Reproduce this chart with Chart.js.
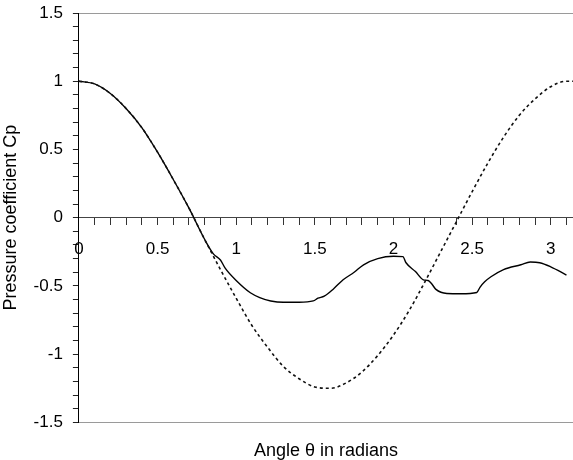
<!DOCTYPE html>
<html>
<head>
<meta charset="utf-8">
<title>Pressure coefficient</title>
<script src="https://cdn.jsdelivr.net/npm/chart.js@4"></script>
<style>
  html, body { margin: 0; padding: 0; background: #fff; }
  #wrap { width: 573px; height: 460px; }
</style>
</head>
<body>
<div id="wrap"><canvas id="cpChart" width="573" height="460"></canvas></div>
<script>
// measured Cp around the body (solid)
const thetaMeasured = [0, 0.1, 0.2, 0.3, 0.4, 0.5, 0.6, 0.7, 0.8, 0.855, 0.9, 0.93, 1.0, 1.09, 1.15, 1.22,
    1.3, 1.4, 1.49, 1.52, 1.56, 1.62, 1.68, 1.75, 1.81, 1.9, 2.0, 2.06, 2.08, 2.14, 2.19, 2.22, 2.24,
    2.27, 2.34, 2.43, 2.53, 2.55, 2.58, 2.62, 2.7, 2.81, 2.87, 2.93, 3.0, 3.1];
const cpMeasured = [1.0, 0.98, 0.91, 0.80, 0.66, 0.48, 0.28, 0.07, -0.16, -0.265, -0.31, -0.37, -0.46, -0.55, -0.585, -0.61,
    -0.62, -0.62, -0.61, -0.59, -0.575, -0.52, -0.455, -0.40, -0.345, -0.30, -0.283, -0.285, -0.33, -0.395, -0.455, -0.46, -0.48,
    -0.525, -0.555, -0.557, -0.548, -0.51, -0.47, -0.433, -0.38, -0.345, -0.325, -0.33, -0.36, -0.42];

// inviscid (potential flow) Cp (dotted)
const thetaIdeal = [0, 0.1, 0.2, 0.3, 0.4, 0.5, 0.6, 0.7, 0.8, 0.9, 1.0, 1.1, 1.2, 1.3, 1.4, 1.5, 1.6,
    1.7, 1.8, 1.9, 2.0, 2.1, 2.2, 2.3, 2.4, 2.5, 2.6, 2.7, 2.8, 2.9, 3.0, 3.1, 3.1416];
const cpIdeal = [1.0, 0.98, 0.91, 0.80, 0.66, 0.48, 0.28, 0.07, -0.16, -0.38, -0.59, -0.79, -0.95, -1.09, -1.18, -1.24, -1.25,
    -1.21, -1.13, -1.01, -0.86, -0.68, -0.47, -0.25, -0.03, 0.19, 0.40, 0.59, 0.75, 0.87, 0.96, 1.0, 1.0];

const xTickLabels = ['0', '0.5', '1', '1.5', '2', '2.5', '3'];
const yTickLabels = ['-1.5', '-1', '-0.5', '0', '0.5', '1', '1.5'];

const toPoints = (xs, ys) => xs.map((x, i) => ({ x: x, y: ys[i] }));

// only every 0.5 gets a label, the 0.1 steps stay as bare tick marks
const halfLabel = (labels) => function(value) {
    const v = Math.round(value * 10) / 10;
    const s = String(v === 0 ? 0 : v);
    return labels.includes(s) && Math.abs(v * 2 - Math.round(v * 2)) < 1e-6 ? s : '';
};

// the plot runs right up to the canvas edge, so drop the label overhang padding
const noOverhang = (scale) => {
    scale.paddingTop = 0;
    scale.paddingBottom = 0;
    scale.paddingLeft = 0;
    scale.paddingRight = 0;
};

const tickFont = { family: 'Liberation Sans, Arial, sans-serif', size: 17 };
const titleFont = { family: 'Liberation Sans, Arial, sans-serif', size: 18 };

const ctx = document.getElementById('cpChart').getContext('2d');

new Chart(ctx, {
    type: 'line',
    data: {
        datasets: [
            {
                label: 'Ideal',
                data: toPoints(thetaIdeal, cpIdeal),
                borderColor: '#111',
                borderWidth: 1.6,
                borderDash: [3, 3],
                pointRadius: 0,
                cubicInterpolationMode: 'monotone'
            },
            {
                label: 'Measured',
                data: toPoints(thetaMeasured, cpMeasured),
                borderColor: '#000',
                borderWidth: 1.4,
                pointRadius: 0,
                cubicInterpolationMode: 'monotone'
            }
        ]
    },
    options: {
        responsive: false,
        animation: false,
        layout: { padding: { top: 13, left: 0, right: 0, bottom: 0 } },
        plugins: {
            legend: { display: false },
            tooltip: { enabled: false },
            title: {
                display: true,
                position: 'bottom',
                fullSize: false,
                text: 'Angle \u03b8 in radians',
                color: '#000',
                font: Object.assign({ weight: 'normal' }, titleFont),
                padding: { top: 18, bottom: -2 }
            }
        },
        scales: {
            x: {
                type: 'linear',
                position: { y: 0 },
                min: 0,
                max: Math.PI,
                afterFit: noOverhang,
                border: { color: '#444', width: 1 },
                grid: {
                    drawOnChartArea: false,
                    drawTicks: true,
                    tickLength: 7,
                    tickColor: '#333'
                },
                ticks: {
                    stepSize: 0.1,
                    autoSkip: false,
                    includeBounds: false,
                    maxRotation: 0,
                    padding: 14,
                    color: '#000',
                    font: tickFont,
                    callback: halfLabel(xTickLabels)
                }
            },
            y: {
                min: -1.5,
                max: 1.5,
                afterFit: noOverhang,
                border: { color: '#000', width: 1 },
                grid: {
                    drawTicks: true,
                    tickLength: 6,
                    tickColor: '#222',
                    color: (c) => (c.tick && Math.abs(Math.abs(c.tick.value) - 1.5) < 1e-6) ? '#9a9a9a' : 'rgba(0,0,0,0)'
                },
                ticks: {
                    stepSize: 0.1,
                    autoSkip: false,
                    padding: 10,
                    color: '#000',
                    font: tickFont,
                    callback: halfLabel(yTickLabels)
                },
                title: {
                    display: true,
                    text: 'Pressure coefficient Cp',
                    color: '#000',
                    font: titleFont,
                    padding: { top: 0, bottom: 2 }
                }
            }
        }
    }
});
</script>
</body>
</html>
